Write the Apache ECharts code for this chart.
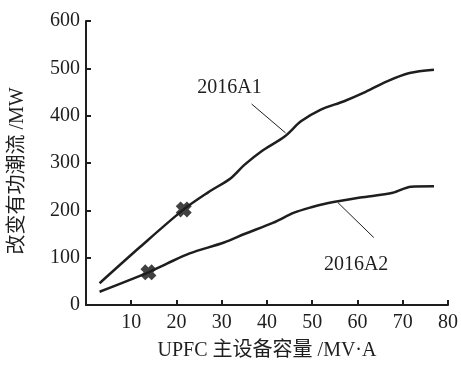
<!DOCTYPE html>
<html><head><meta charset="utf-8">
<script src="https://cdn.jsdelivr.net/npm/echarts@6/dist/echarts.min.js"></script>
<style>html,body{margin:0;padding:0;background:#fff}#c{width:461px;height:366px}</style>
</head><body><div id="c"></div>
<script>
// Data (x: UPFC capacity MV·A, y: power flow change MW)
const seriesA1 = [[3,46],[12,123],[21.6,202],[27,238],[32,268],[35,296],[38.8,325],[43.9,356],[47.5,388],[51.9,413],[56.9,430],[61.3,448],[66.4,472],[71.5,490],[76.9,497]];
const seriesA2 = [[3,28],[13.8,69],[18,88],[22.9,109],[30.5,132],[35,150],[41.4,174],[46,195],[50,207],[53.3,215],[60.6,227],[67.8,237],[71.8,250],[76.9,251]];
const markersA1 = [[21.6,202]];
const markersA2 = [[13.8,69]];
const labelA1 = {name:'2016A1', at:[31.7,460], leader:[[36.6,424.6],[44.1,363.6]]};
const labelA2 = {name:'2016A2', at:[59.7,85], leader:[[55.7,216],[63.6,142.5]]};
const xTicks = [0,10,20,30,40,50,60,70,80];
const yTicks = [0,100,200,300,400,500,600];
const xTitle = 'UPFC 主设备容量 /MV·A';
const yTitle = '改变有功潮流 /MW';

const FONT = '"Liberation Serif","Noto Sans CJK SC",serif';
const INK = '#1e1e1e';
const X_PATH = 'path://M0,3 L3,0 L5,2 L7,0 L10,3 L8,5 L10,7 L7,10 L5,8 L3,10 L0,7 L2,5 Z';

function annot(a){
  return {
    markLine:{silent:true,symbol:['none','none'],label:{show:false},
      lineStyle:{color:INK,width:1,type:'solid'},
      data:[[{coord:a.leader[0]},{coord:a.leader[1]}]]},
    markPoint:{silent:true,symbol:'circle',symbolSize:0,
      label:{show:true,position:'inside',formatter:'{b}',color:INK,fontFamily:FONT,fontSize:20},
      data:[{name:a.name,coord:a.at}]}
  };
}

const chart = echarts.init(document.getElementById('c'),null,{renderer:'canvas'});
chart.setOption({
  animation:false,
  backgroundColor:'#fff',
  grid:{left:82,right:12,top:21,bottom:60,containLabel:false},
  xAxis:{type:'value',min:xTicks[0],max:xTicks[xTicks.length-1],interval:10,
    name:xTitle,nameLocation:'middle',nameGap:36,
    nameTextStyle:{fontFamily:FONT,fontSize:20,color:INK},
    axisLine:{onZero:false,lineStyle:{color:INK,width:2}},
    axisTick:{inside:true,length:5,lineStyle:{color:INK,width:2}},
    axisLabel:{fontFamily:FONT,fontSize:20,color:INK,margin:8,
      formatter:v=>v===0?'':String(v)},
    splitLine:{show:false}},
  yAxis:{type:'value',min:yTicks[0],max:yTicks[yTicks.length-1],interval:100,
    name:yTitle,nameLocation:'middle',nameGap:58,nameRotate:90,
    nameTextStyle:{fontFamily:FONT,fontSize:20,color:INK,padding:[0,0,0,-16]},
    axisLine:{onZero:false,lineStyle:{color:INK,width:2}},
    axisTick:{inside:true,length:5,lineStyle:{color:INK,width:2}},
    axisLabel:{fontFamily:FONT,fontSize:20,color:INK,margin:6},
    splitLine:{show:false}},
  series:[
    Object.assign({type:'line',name:'2016A1',data:seriesA1,showSymbol:false,smooth:0.3,
      lineStyle:{color:INK,width:2.5}},annot(labelA1)),
    Object.assign({type:'line',name:'2016A2',data:seriesA2,showSymbol:false,smooth:0.3,
      lineStyle:{color:INK,width:2.5}},annot(labelA2)),
    {type:'scatter',data:markersA1.concat(markersA2),symbol:X_PATH,symbolSize:16,
      itemStyle:{color:'#111'}}
  ]
});
</script></body></html>
